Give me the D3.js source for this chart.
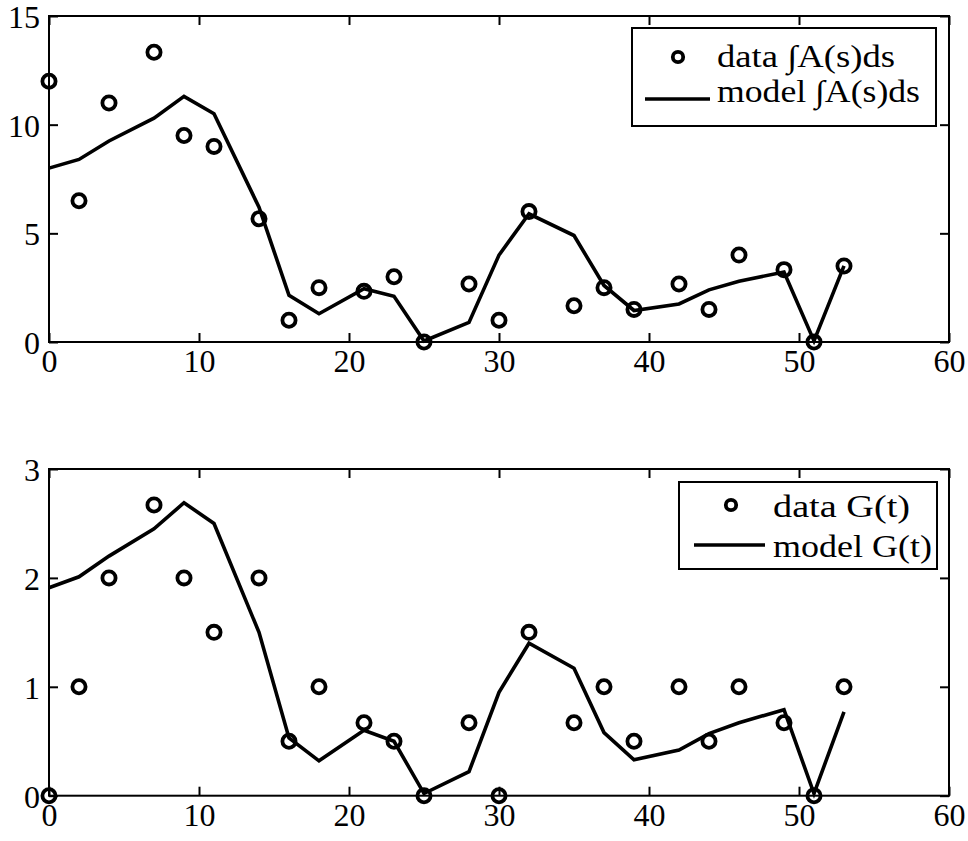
<!DOCTYPE html>
<html><head><meta charset="utf-8">
<script src="https://cdn.jsdelivr.net/npm/d3@7/dist/d3.min.js"></script>
<style>
html,body{margin:0;padding:0;background:#fff;}
svg{display:block;}
text{font-family:"Liberation Serif","Times New Roman",serif;fill:#000;}
</style></head>
<body>
<script>
// ---- data ----
const days = [0,2,4,7,9,11,14,16,18,21,23,25,28,30,32,35,37,39,42,44,46,49,51,53];
const dataA = [12,6.5,11,13.33,9.5,9,5.67,1,2.5,2.33,3,0,2.67,1,6,1.67,2.5,1.5,2.67,1.5,4,3.33,0,3.5];
const modelA = [8,8.4,9.25,10.3,11.3,10.5,6.2,2.15,1.3,2.45,2.1,0.05,0.9,4.0,5.9,4.9,2.6,1.45,1.75,2.4,2.8,3.22,0.05,3.5];
const dataG = [0,1,2,2.67,2,1.5,2,0.5,1,0.67,0.5,0,0.67,0,1.5,0.67,1,0.5,1,0.5,1,0.67,0,1];
const modelG = [1.91,2.01,2.2,2.45,2.69,2.5,1.5,0.53,0.32,0.6,0.5,0.02,0.22,0.95,1.4,1.17,0.58,0.33,0.42,0.57,0.67,0.79,0.02,0.77];
const xTicks = [0,10,20,30,40,50,60];
const yTicksTop = [0,5,10,15];
const yTicksBot = [0,1,2,3];
const legendTop = ["data \u222BA(s)ds","model \u222BA(s)ds"];
const legendBot = ["data G(t)","model G(t)"];

const W = 968, H = 841;
const FONT = '"Liberation Serif","Times New Roman",serif';
const svg = d3.select("body").append("svg").attr("width",W).attr("height",H);

const x = d3.scaleLinear().domain([0,60]).range([49,949]);

function panel(yDomain, yRange, yTicks, dData, dModel, leg, L){
  const y = d3.scaleLinear().domain(yDomain).range(yRange);
  const g = svg.append("g");
  const y0 = yRange[0], y1 = yRange[1];
  // model line
  g.append("path")
    .datum(days.map((d,i)=>[d,dModel[i]]))
    .attr("fill","none").attr("stroke","#000").attr("stroke-width",3.6)
    .attr("stroke-linejoin","miter")
    .attr("d", d3.line().x(d=>x(d[0])).y(d=>y(d[1])));
  // data circles
  g.selectAll("circle.pt").data(days.map((d,i)=>[d,dData[i]])).enter()
    .append("circle").attr("class","pt")
    .attr("cx",d=>x(d[0])).attr("cy",d=>y(d[1])).attr("r",6.6)
    .attr("fill","none").attr("stroke","#000").attr("stroke-width",3.8);
  // axes (inward ticks)
  const ax = (axis, tr) => {
    const a = g.append("g").attr("transform",tr).call(axis);
    a.select(".domain").remove();
    a.selectAll("line").attr("stroke","#000").attr("stroke-width",2);
    a.attr("font-family",FONT);
    return a;
  };
  const bx = ax(d3.axisBottom(x).tickValues(xTicks).tickSize(-9).tickFormat(d3.format("d")), `translate(0,${y0})`);
  bx.selectAll("text").attr("y",null).attr("dy",null).attr("transform","translate(0,30)")
    .style("font-size","32px").style("font-family",FONT);
  ax(d3.axisTop(x).tickValues(xTicks).tickSize(-9).tickFormat(""), `translate(0,${y1})`);
  const ly = ax(d3.axisLeft(y).tickValues(yTicks).tickSize(-9).tickFormat(d3.format("d")), `translate(${x(0)},0)`);
  ly.selectAll("text").attr("x",-9).attr("dy","0.36em")
    .style("font-size","32px").style("font-family",FONT);
  ax(d3.axisRight(y).tickValues(yTicks).tickSize(-9).tickFormat(""), `translate(${x(60)},0)`);
  svg.selectAll("g.tick text").attr("fill","#000");
  // frame
  g.append("rect").attr("x",x(0)).attr("y",y1).attr("width",x(60)-x(0)).attr("height",y0-y1)
    .attr("fill","none").attr("stroke","#000").attr("stroke-width",2);
  // legend
  const lg = g.append("g");
  lg.append("rect").attr("x",L.bx).attr("y",L.by).attr("width",L.bw).attr("height",L.bh)
    .attr("fill","#fff").attr("stroke","#000").attr("stroke-width",2);
  lg.append("circle").attr("cx",L.cx).attr("cy",L.cy).attr("r",5.2)
    .attr("fill","none").attr("stroke","#000").attr("stroke-width",3.8);
  lg.append("line").attr("x1",L.lx1).attr("x2",L.lx2).attr("y1",L.ly).attr("y2",L.ly)
    .attr("stroke","#000").attr("stroke-width",3.6);
  lg.append("text").attr("x",L.tx).attr("y",L.t1).text(leg[0]).style("font-size","31px")
    .attr("textLength",L.w1).attr("lengthAdjust","spacingAndGlyphs");
  lg.append("text").attr("x",L.tx).attr("y",L.t2).text(leg[1]).style("font-size","31px")
    .attr("textLength",L.w2).attr("lengthAdjust","spacingAndGlyphs");
}

panel([0,15],[342,16],yTicksTop,dataA,modelA,legendTop,
  {bx:632,by:28,bw:304,bh:98,cx:678,cy:57,lx1:645,lx2:710,ly:99,tx:717,t1:67,t2:102,w1:178,w2:203});
panel([0,3],[795.7,469],yTicksBot,dataG,modelG,legendBot,
  {bx:679,by:482,bw:258,bh:87,cx:731,cy:505,lx1:694,lx2:765,ly:545,tx:773,t1:517,t2:557,w1:137,w2:159});
</script>
</body></html>
